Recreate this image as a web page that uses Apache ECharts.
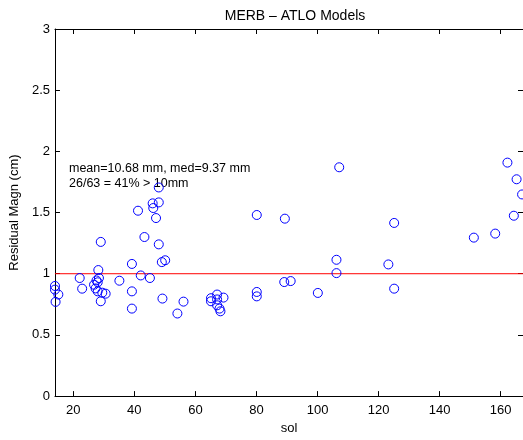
<!DOCTYPE html>
<html>
<head>
	<meta charset="UTF-8">
	<title>MERB - ATLO Models</title>
	<script src="https://cdn.jsdelivr.net/npm/echarts@6/dist/echarts.min.js"></script>
	<style>
		html, body { margin: 0; padding: 0; background: #fff; }
		#main { width: 523px; height: 440px; }
	</style>
</head>
<body>
<div id="main"></div>
<script>
	// sol number and residual magnitude (cm)
	const sols = [
		14.0, 14.0, 14.2, 15.1,
		22.1, 22.9,
		29.0, 28.2, 28.4, 27.6, 26.8, 28.0, 27.3, 28.0, 29.5, 30.6, 29.0,
		35.1,
		39.2, 39.2, 39.2,
		41.2, 43.3, 42.1, 45.1, 46.0, 46.2, 48.0, 48.0, 47.1, 48.0, 49.0, 50.1, 49.2,
		54.1, 56.1,
		65.1, 65.1, 67.1, 67.1, 69.2, 67.1, 67.9, 68.2,
		80.1, 80.1, 80.1,
		89.3, 89.1, 91.2,
		100.1,
		107.1, 106.2, 106.2,
		125.1, 123.2, 125.1,
		151.2, 158.2, 162.2, 164.3, 165.2, 167.0
	];
	const residuals = [
		0.90, 0.87, 0.77, 0.83,
		0.965, 0.878,
		1.26, 1.03, 0.965, 0.945, 0.91, 0.93, 0.88, 0.856, 0.845, 0.837, 0.775,
		0.943,
		1.08, 0.856, 0.715,
		1.515, 1.30, 0.986, 0.965, 1.575, 1.537, 1.583, 1.705, 1.455, 1.24, 1.095, 1.11, 0.797,
		0.675, 0.772,
		0.80, 0.775, 0.83, 0.79, 0.805, 0.742, 0.715, 0.693,
		1.48, 0.851, 0.815,
		1.45, 0.932, 0.94,
		0.843,
		1.87, 1.114, 1.005,
		1.415, 1.076, 0.878,
		1.295, 1.328, 1.908, 1.474, 1.772, 1.648
	];
	const solTicks = [20, 40, 60, 80, 100, 120, 140, 160];
	const solMin = 14, solMax = 167.3;
	const threshold = 1;
	const statText = 'mean=10.68 mm, med=9.37 mm\n26/63 = 41% > 10mm';

	const font = "'Liberation Sans', Arial, sans-serif";
	const black = '#000';

	let chart = echarts.init(document.getElementById('main'), null, { renderer: 'canvas' });

	let xBase = {
		type: 'value',
		min: solMin,
		max: solMax,
		splitLine: { show: false },
		axisLine: { show: true, onZero: false, lineStyle: { color: black, width: 1 } },
		axisTick: { show: true, inside: true, length: 5, customValues: solTicks, lineStyle: { color: black } }
	};
	let yBase = {
		type: 'value',
		min: 0,
		max: 3,
		interval: 0.5,
		splitLine: { show: false },
		axisLine: { show: true, onZero: false, lineStyle: { color: black, width: 1 } },
		axisTick: { show: true, inside: true, length: 5, lineStyle: { color: black } }
	};

	let option = {
		backgroundColor: '#fff',
		animation: false,
		textStyle: { fontFamily: font },
		title: {
			text: 'MERB – ATLO Models',
			left: 290,
			top: 4,
			textAlign: 'center',
			textStyle: { fontFamily: font, fontSize: 14, fontWeight: 'normal', color: black }
		},
		grid: { left: 54, right: -1, top: 29, bottom: 42 },
		xAxis: [
			Object.assign({}, xBase, {
				position: 'bottom',
				name: 'sol',
				nameLocation: 'middle',
				nameGap: 23,
				nameTextStyle: { fontFamily: font, fontSize: 13, color: black },
				axisLabel: { customValues: solTicks, margin: 8, fontFamily: font, fontSize: 13, color: black }
			}),
			Object.assign({}, xBase, {
				position: 'top',
				axisLabel: { show: false }
			})
		],
		yAxis: [
			Object.assign({}, yBase, {
				position: 'left',
				name: 'Residual Magn (cm)',
				nameLocation: 'middle',
				nameGap: 32,
				nameTextStyle: { fontFamily: font, fontSize: 13, color: black },
				axisLabel: { margin: 5, fontFamily: font, fontSize: 13, color: black }
			}),
			Object.assign({}, yBase, {
				position: 'right',
				axisLabel: { show: false }
			})
		],
		graphic: [{
			type: 'text',
			left: 69,
			top: 161,
			style: {
				text: statText,
				font: '12.5px ' + font,
				fill: black,
				lineHeight: 15
			}
		}],
		series: [{
			// 10 mm threshold line
			type: 'line',
			xAxisIndex: 0,
			yAxisIndex: 0,
			silent: true,
			symbol: 'none',
			color: '#ff0000',
			lineStyle: { color: '#ff0000', width: 1, type: 'solid' },
			data: [[solMin, threshold], [solMax, threshold]],
			z: 1
		}, {
			type: 'scatter',
			xAxisIndex: 0,
			yAxisIndex: 0,
			symbol: 'circle',
			symbolSize: 9,
			itemStyle: { color: 'rgba(0,0,0,0)', borderColor: '#0000ff', borderWidth: 1, opacity: 1 },
			emphasis: { disabled: true },
			data: sols.map((s, i) => [s, residuals[i]]),
			z: 2
		}]
	};

	chart.setOption(option);
</script>
</body>
</html>
